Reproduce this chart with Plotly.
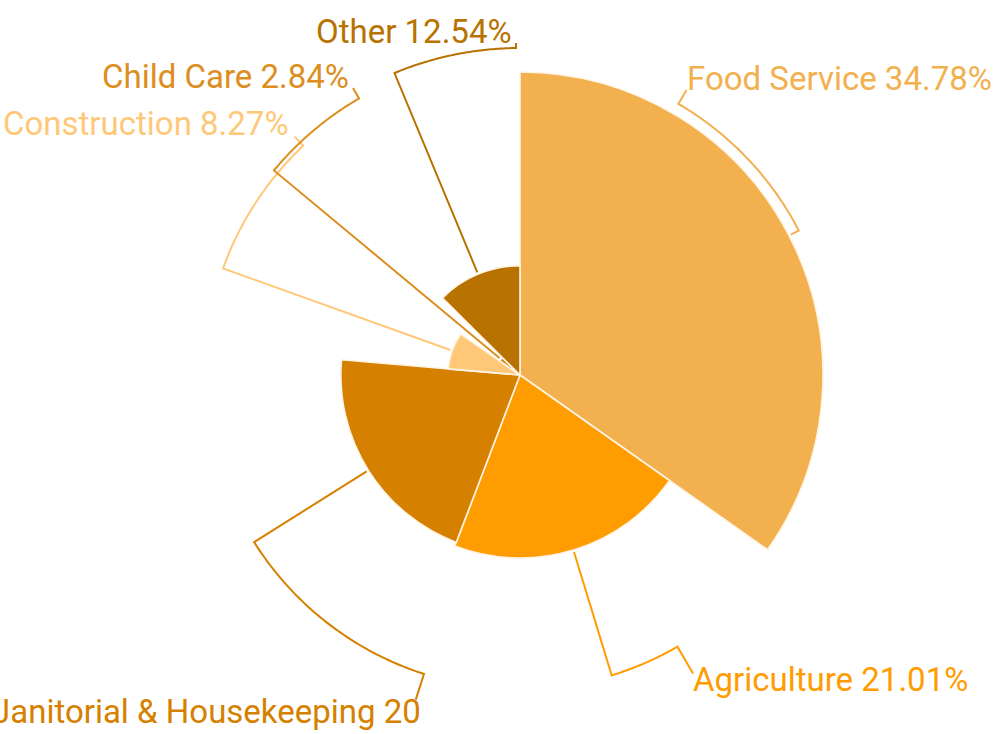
import numpy as np
import plotly.graph_objects as go

# ---------------- data ----------------
categories = ["Food Service", "Agriculture", "Janitorial & Housekeeping",
              "Construction", "Child Care", "Other"]
shares = [34.78, 21.01, 20.56, 8.27, 2.84, 12.54]
label_texts = ["Food Service 34.78%", "Agriculture 21.01%",
               "Janitorial & Housekeeping 20", "Construction 8.27%",
               "Child Care 2.84%", "Other 12.54%"]
colors = ["#F2B04F", "#FF9C00", "#D68000", "#FFC878", "#DC8E20", "#B87200"]

# ---------------- layout geometry (pixels) ----------------
W, H = 993, 734
CX, CY = 520, 375
R_MAX_PX = 303          # outer radius of the largest sector
DOMAIN_R = 359          # radius of the polar domain
FONT_SIZE = 33

# leader-line geometry per slice
arc_r = [314, 314, 314, 315.5, 320, 327]
lab_ang = [30.3, 149.9, 197.8, 316.6, 329.8, 359.3]
end_r = [330, 345, 341, 328, 332, 332]
anchors = ["left", "left", "right", "right", "right", "right"]
text_dx = [-1, -2, 7, -4, -2, -2]
text_dy = [0, 17, 23, -2, 0, 0]

k = R_MAX_PX / max(shares)          # pixels per unit
total = sum(shares)
widths = [s / total * 360 for s in shares]
starts = np.cumsum([0] + widths[:-1])
mids = starts + np.array(widths) / 2

fig = go.Figure()
fig.add_trace(go.Barpolar(
    r=shares, theta=mids, width=widths,
    marker=dict(color=colors, line=dict(color="#FFF4E4", width=1.6)),
    text=categories, hoverinfo="text", showlegend=False,
))

annotations = []
for i in range(len(shares)):
    r0 = shares[i] * k + 2
    arc_th = np.linspace(mids[i], lab_ang[i], 60)
    th = [mids[i], mids[i]] + list(arc_th) + [lab_ang[i]]
    rr = [r0, arc_r[i]] + [arc_r[i]] * len(arc_th) + [end_r[i]]
    fig.add_trace(go.Scatterpolar(
        r=[v / k for v in rr], theta=th, mode="lines",
        line=dict(color=colors[i], width=2), hoverinfo="skip",
        showlegend=False, cliponaxis=False,
    ))
    a = np.deg2rad(lab_ang[i])
    tx = CX + end_r[i] * np.sin(a)
    ty = CY - end_r[i] * np.cos(a)
    x = tx + text_dx[i]
    baseline = ty + text_dy[i]
    yc = baseline - 0.342 * FONT_SIZE
    annotations.append(dict(
        x=x / W, y=1 - yc / H, xref="paper", yref="paper",
        text=label_texts[i], showarrow=False,
        xanchor=anchors[i], yanchor="middle",
        font=dict(family="Roboto", size=FONT_SIZE, color=colors[i]),
    ))

fig.update_layout(
    width=W, height=H,
    margin=dict(l=0, r=0, t=0, b=0, pad=0),
    paper_bgcolor="white", plot_bgcolor="white",
    showlegend=False,
    annotations=annotations,
    polar=dict(
        domain=dict(x=[(CX - DOMAIN_R) / W, (CX + DOMAIN_R) / W],
                    y=[1 - (CY + DOMAIN_R) / H, 1 - (CY - DOMAIN_R) / H]),
        bgcolor="rgba(0,0,0,0)",
        radialaxis=dict(visible=False, range=[0, DOMAIN_R / k]),
        angularaxis=dict(visible=False, rotation=90, direction="clockwise"),
    ),
)

fig.write_html("out.html",
               config={"displayModeBar": False},
               post_script="document.body.style.margin='0';document.body.style.overflow='hidden';")
